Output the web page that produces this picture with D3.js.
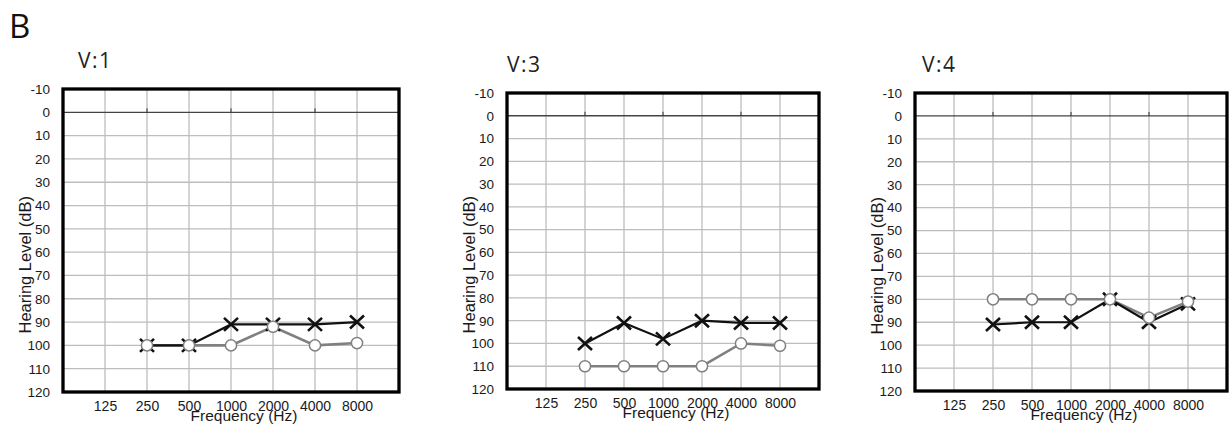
<!DOCTYPE html>
<html>
<head>
<meta charset="utf-8">
<script src="https://cdn.jsdelivr.net/npm/d3@7"></script>
<style>
  body { margin: 0; background: #fff; }
  svg { display: block; }
</style>
</head>
<body>
<div id="chart"></div>
<script>
// tick labels
const freqTicks = [125, 250, 500, 1000, 2000, 4000, 8000];
const dbTicks = [-10, 0, 10, 20, 30, 40, 50, 60, 70, 80, 90, 100, 110, 120];
const markTicks = [250, 1000, 4000];

// measured frequencies
const testFreqs = [250, 500, 1000, 2000, 4000, 8000];

// V:1
const v1Cross = [100, 100, 91, 91, 91, 90];
const v1Circle = [100, 100, 100, 92, 100, 99];
// V:3
const v3Cross = [100, 91, 98, 90, 91, 91];
const v3Circle = [110, 110, 110, 110, 100, 101];
// V:4
const v4Cross = [91, 90, 90, 80, 90, 82];
const v4Circle = [80, 80, 80, 80, 88, 81];

const titles = ['V:1', 'V:3', 'V:4'];

const gridColor = '#bdbdbd';
const crossColor = '#111111';
const circleColor = '#808080';
const textColor = '#1a1a1a';
const tickFont = '"Liberation Sans", Arial, sans-serif';

const panels = [
  {title: titles[0], cross: v1Cross, circle: v1Circle, left: 63, top: 89, width: 336, height: 303, titleDx: 15},
  {title: titles[1], cross: v3Cross, circle: v3Circle, left: 507, top: 93, width: 312, height: 296, titleDx: 0},
  {title: titles[2], cross: v4Cross, circle: v4Circle, left: 915, top: 93, width: 312, height: 298, titleDx: 7},
];

const svg = d3.select('#chart')
  .append('svg')
  .attr('width', 1229)
  .attr('height', 430);

svg.append('text')
  .attr('x', 9)
  .attr('y', 38)
  .style('font-family', '"Open Sans", sans-serif')
  .style('font-size', '33px')
  .style('fill', '#111')
  .text('B');

function drawPanel(p) {
  const g = svg.append('g')
    .attr('transform', `translate(${p.left}, ${p.top})`);

  const xScale = d3.scaleLog().base(2)
    .domain([62.5, 16000])
    .range([0, p.width]);

  const yScale = d3.scaleLinear()
    .domain([-10, 120])
    .range([0, p.height]);

  // grid
  g.append('g')
    .attr('class', 'x-grid')
    .selectAll('line')
    .data(freqTicks)
    .join('line')
    .attr('x1', d => xScale(d))
    .attr('x2', d => xScale(d))
    .attr('y1', 0)
    .attr('y2', p.height)
    .attr('stroke', gridColor)
    .attr('stroke-width', 1.3);

  g.append('g')
    .attr('class', 'y-grid')
    .selectAll('line')
    .data(dbTicks.slice(1, -1))
    .join('line')
    .attr('x1', 0)
    .attr('x2', p.width)
    .attr('y1', d => yScale(d))
    .attr('y2', d => yScale(d))
    .attr('stroke', d => d === 0 ? '#444' : gridColor)
    .attr('stroke-width', 1.3);

  // little marks on the 0 dB line
  g.append('g')
    .selectAll('line')
    .data(markTicks)
    .join('line')
    .attr('x1', d => xScale(d))
    .attr('x2', d => xScale(d))
    .attr('y1', yScale(0) - 4)
    .attr('y2', yScale(0))
    .attr('stroke', '#333')
    .attr('stroke-width', 1);

  // axes (labels only)
  const yAxis = g.append('g')
    .call(d3.axisLeft(yScale).tickValues(dbTicks).tickFormat(d => String(d)).tickSize(0).tickPadding(13));
  yAxis.select('.domain').remove();
  yAxis.selectAll('text')
    .style('font-family', tickFont)
    .style('font-size', '13.5px')
    .style('fill', textColor);

  const xAxis = g.append('g')
    .attr('transform', `translate(0, ${p.height})`)
    .call(d3.axisBottom(xScale).tickValues(freqTicks).tickFormat(d => String(d)).tickSize(0).tickPadding(9));
  xAxis.select('.domain').remove();
  xAxis.selectAll('text')
    .style('font-family', tickFont)
    .style('font-size', '14px')
    .style('fill', textColor);

  // frame
  g.append('rect')
    .attr('width', p.width)
    .attr('height', p.height)
    .attr('fill', 'none')
    .attr('stroke', '#000')
    .attr('stroke-width', 3.3);

  // axis titles
  g.append('text')
    .attr('transform', `translate(${-32}, ${p.height * 0.58}) rotate(-90)`)
    .attr('text-anchor', 'middle')
    .style('font-family', tickFont)
    .style('font-size', '16.5px')
    .style('fill', textColor)
    .text('Hearing Level (dB)');

  g.append('text')
    .attr('x', p.width / 2 + 13)
    .attr('y', p.height + 29)
    .attr('text-anchor', 'middle')
    .style('font-family', tickFont)
    .style('font-size', '15.5px')
    .style('fill', textColor)
    .text('Frequency (Hz)');

  g.append('text')
    .attr('x', p.titleDx)
    .attr('y', -21)
    .style('font-family', '"Open Sans", sans-serif')
    .style('font-size', '21px')
    .style('letter-spacing', '1.5px')
    .style('fill', '#222')
    .text(p.title);

  const line = d3.line()
    .x((d, i) => xScale(testFreqs[i]))
    .y(d => yScale(d));

  g.append('path')
    .datum(p.circle)
    .attr('fill', 'none')
    .attr('stroke', circleColor)
    .attr('stroke-width', 2.6)
    .attr('d', line);

  g.append('path')
    .datum(p.cross)
    .attr('fill', 'none')
    .attr('stroke', crossColor)
    .attr('stroke-width', 2.2)
    .attr('d', line);

  g.append('g')
    .selectAll('path')
    .data(p.cross)
    .join('path')
    .attr('transform', (d, i) => `translate(${xScale(testFreqs[i])}, ${yScale(d)})`)
    .attr('d', 'M-7,-6.5L7,6.5M-7,6.5L7,-6.5')
    .attr('stroke', crossColor)
    .attr('stroke-width', 2.6)
    .attr('fill', 'none');

  g.append('g')
    .selectAll('circle')
    .data(p.circle)
    .join('circle')
    .attr('cx', (d, i) => xScale(testFreqs[i]))
    .attr('cy', d => yScale(d))
    .attr('r', 5.6)
    .attr('fill', '#fff')
    .attr('stroke', circleColor)
    .attr('stroke-width', 1.5);
}

panels.forEach(drawPanel);
</script>
</body>
</html>
